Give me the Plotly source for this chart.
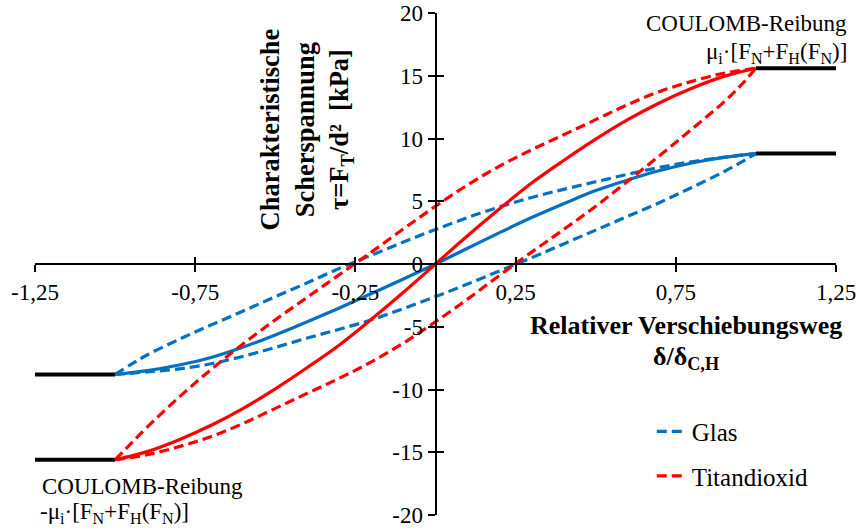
import plotly.graph_objects as go

# ---------------- data ----------------
grid_x = [-1.0, -0.9, -0.8, -0.7, -0.6, -0.5, -0.4, -0.3, -0.2, -0.1, 0.0, 0.1, 0.2, 0.3, 0.4, 0.5, 0.6, 0.7, 0.8, 0.9, 1.0]

# Glas - virgin (solid) curve
glas_virgin_x = grid_x
glas_virgin_y = [-8.8, -8.5, -8.05, -7.45, -6.62, -5.65, -4.6, -3.5, -2.35, -1.2, 0.0, 1.25, 2.5, 3.7, 4.8, 5.85, 6.7, 7.45, 8.05, 8.5, 8.8]
# Glas - ascending (upper) dashed branch
glas_up_x = [-1.0, -0.95, -0.9, -0.8, -0.7, -0.6, -0.5, -0.4, -0.3, -0.2, -0.1, 0.0, 0.1, 0.2, 0.3, 0.4, 0.5, 0.6, 0.7, 0.8, 0.9, 1.0]
glas_up_y = [-8.8, -8.0, -7.25, -6.0, -4.85, -3.75, -2.6, -1.5, -0.35, 0.7, 1.75, 2.75, 3.7, 4.55, 5.3, 5.95, 6.55, 7.15, 7.7, 8.15, 8.5, 8.8]
# Glas - descending (lower) dashed branch
glas_down_x = [-1.0, -0.9, -0.8, -0.7, -0.6, -0.5, -0.4, -0.3, -0.2, -0.1, 0.0, 0.1, 0.2, 0.3, 0.4, 0.5, 0.6, 0.7, 0.8, 0.9, 0.95, 1.0]
glas_down_y = [-8.8, -8.6, -8.35, -7.95, -7.35, -6.65, -5.9, -5.2, -4.45, -3.55, -2.6, -1.6, -0.55, 0.5, 1.6, 2.7, 3.8, 4.9, 6.1, 7.35, 8.05, 8.8]

# Titandioxid - virgin (solid) curve
titan_virgin_x = grid_x
titan_virgin_y = [-15.6, -14.95, -14.0, -12.85, -11.5, -9.95, -8.25, -6.45, -4.4, -2.25, 0.0, 2.25, 4.4, 6.45, 8.25, 9.95, 11.5, 12.85, 14.0, 14.95, 15.6]
# Titandioxid - ascending (upper) dashed branch
titan_up_x = [-1.0, -0.95, -0.9, -0.8, -0.7, -0.6, -0.5, -0.4, -0.3, -0.2, -0.1, 0.0, 0.1, 0.2, 0.3, 0.4, 0.5, 0.6, 0.7, 0.8, 0.9, 1.0]
titan_up_y = [-15.6, -14.3, -13.0, -10.6, -8.4, -6.35, -4.45, -2.65, -0.85, 0.95, 2.8, 4.6, 6.3, 7.8, 9.1, 10.3, 11.5, 12.7, 13.75, 14.55, 15.2, 15.6]
# Titandioxid - descending (lower) dashed branch
titan_down_x = [-1.0, -0.9, -0.8, -0.7, -0.6, -0.5, -0.4, -0.3, -0.2, -0.1, 0.0, 0.1, 0.2, 0.3, 0.4, 0.5, 0.6, 0.7, 0.8, 0.9, 0.95, 1.0]
titan_down_y = [-15.6, -15.2, -14.55, -13.75, -12.7, -11.5, -10.3, -9.1, -7.8, -6.3, -4.6, -2.8, -0.9, 0.95, 2.75, 4.6, 6.6, 8.65, 10.75, 12.9, 14.15, 15.6]

# COULOMB friction plateaus
coulomb_left_x = [-1.25, -1.0]
coulomb_right_x = [1.0, 1.25]
glas_coulomb = 8.8
titan_coulomb = 15.6

# tick labels
x_tickvals = [-1.25, -0.75, -0.25, 0.25, 0.75, 1.25]
x_ticktext = ["-1,25", "-0,75", "-0,25", "0,25", "0,75", "1,25"]
y_tickvals = [-20, -15, -10, -5, 0, 5, 10, 15, 20]
y_ticktext = ["-20", "-15", "-10", "-5", "0", "5", "10", "15", "20"]

BLUE = "#0070C0"
RED = "#FF0000"
FONT = "Liberation Serif"
DASH = "10px,5px"
SM = 1.0
LW = 3.2

fig = go.Figure()

# black plateaus
for xs, yv in [(coulomb_left_x, -glas_coulomb), (coulomb_left_x, -titan_coulomb),
               (coulomb_right_x, glas_coulomb), (coulomb_right_x, titan_coulomb)]:
    fig.add_trace(go.Scatter(x=xs, y=[yv, yv], mode="lines",
                             line=dict(color="black", width=4), showlegend=False, hoverinfo="skip"))

# Glas
fig.add_trace(go.Scatter(x=glas_up_x, y=glas_up_y, mode="lines", name="Glas", legendgroup="g",
                         line=dict(color=BLUE, width=LW, dash=DASH, shape="spline", smoothing=SM)))
fig.add_trace(go.Scatter(x=glas_down_x, y=glas_down_y, mode="lines", legendgroup="g", showlegend=False,
                         line=dict(color=BLUE, width=LW, dash=DASH, shape="spline", smoothing=SM)))
fig.add_trace(go.Scatter(x=glas_virgin_x, y=glas_virgin_y, mode="lines", legendgroup="g", showlegend=False,
                         line=dict(color=BLUE, width=LW, shape="spline", smoothing=SM)))
# Titandioxid
fig.add_trace(go.Scatter(x=titan_up_x, y=titan_up_y, mode="lines", name="Titandioxid", legendgroup="t",
                         line=dict(color=RED, width=LW, dash=DASH, shape="spline", smoothing=SM)))
fig.add_trace(go.Scatter(x=titan_down_x, y=titan_down_y, mode="lines", legendgroup="t", showlegend=False,
                         line=dict(color=RED, width=LW, dash=DASH, shape="spline", smoothing=SM)))
fig.add_trace(go.Scatter(x=titan_virgin_x, y=titan_virgin_y, mode="lines", legendgroup="t", showlegend=False,
                         line=dict(color=RED, width=LW, shape="spline", smoothing=SM)))

# dummy trace for the overlay axes (inner half of the crossing ticks)
fig.add_trace(go.Scatter(x=[None], y=[None], xaxis="x2", yaxis="y2", showlegend=False, hoverinfo="skip"))

tickfont = dict(family=FONT, size=23, color="black")
common_x = dict(range=[-1.25, 1.25], tickmode="array", tickvals=x_tickvals, showgrid=False, zeroline=False,
                anchor="free", position=0.5, tickwidth=2, tickcolor="black", ticklen=7, domain=[0, 1],
                automargin=False)
common_y = dict(range=[-20, 20], tickmode="array", tickvals=y_tickvals, showgrid=False, zeroline=False,
                anchor="free", position=0.5, tickwidth=2, tickcolor="black", ticklen=7, domain=[0, 1],
                automargin=False)

fig.update_layout(
    width=858, height=530,
    margin=dict(l=35, r=22, t=13, b=15, autoexpand=False),
    paper_bgcolor="white", plot_bgcolor="white",
    xaxis=dict(**common_x, showline=True, linecolor="black", linewidth=2, ticks="outside",
               ticktext=x_ticktext, tickfont=tickfont),
    yaxis=dict(**common_y, showline=True, linecolor="black", linewidth=2, ticks="outside",
               ticktext=y_ticktext, tickfont=tickfont),
    xaxis2=dict(**common_x, overlaying="x", ticks="inside", showticklabels=False, showline=False),
    yaxis2=dict(**common_y, overlaying="y", ticks="inside", showticklabels=False, showline=False),
    legend=dict(x=0.77, y=0.212, xanchor="left", yanchor="top", font=dict(family=FONT, size=25, color="black"),
                bgcolor="rgba(0,0,0,0)", tracegroupgap=9, traceorder="grouped"),
    font=dict(family=FONT, color="black"),
    annotations=[
        dict(text="COULOMB-Reibung", xref="paper", yref="paper", x=1.0162, y=0.980,
             xanchor="right", yanchor="middle", showarrow=False, font=dict(family=FONT, size=23)),
        dict(text="μ<sub>i</sub>·[F<sub>N</sub>+F<sub>H</sub>(F<sub>N</sub>)]", xref="paper", yref="paper",
             x=1.0162, y=0.920, xanchor="right", yanchor="middle", showarrow=False, font=dict(family=FONT, size=23)),
        dict(text="COULOMB-Reibung", xref="paper", yref="paper", x=0.0062, y=0.0558,
             xanchor="left", yanchor="middle", showarrow=False, font=dict(family=FONT, size=23)),
        dict(text="-μ<sub>i</sub>·[F<sub>N</sub>+F<sub>H</sub>(F<sub>N</sub>)]", xref="paper", yref="paper",
             x=0.0037, y=0.003, xanchor="left", yanchor="middle", showarrow=False, font=dict(family=FONT, size=23)),
        dict(text="<b>Charakteristische<br>Scherspannung<br>τ=F<sub>T</sub>/d²\u00a0\u00a0[kPa]</b>",
             xref="paper", yref="paper", x=0.3395, y=0.768, xanchor="center", yanchor="middle",
             textangle=-90, showarrow=False, font=dict(family=FONT, size=26.5)),
        dict(text="<b>Relativer Verschiebungsweg</b>", xref="paper", yref="paper", x=0.8127, y=0.377,
             xanchor="center", yanchor="middle", showarrow=False, font=dict(family=FONT, size=26)),
        dict(text="<b>δ/δ<sub>C,H</sub></b>", xref="paper", yref="paper", x=0.8127, y=0.3127,
             xanchor="center", yanchor="middle", showarrow=False, font=dict(family=FONT, size=26)),
    ],
)

fig.write_html("out.html")
